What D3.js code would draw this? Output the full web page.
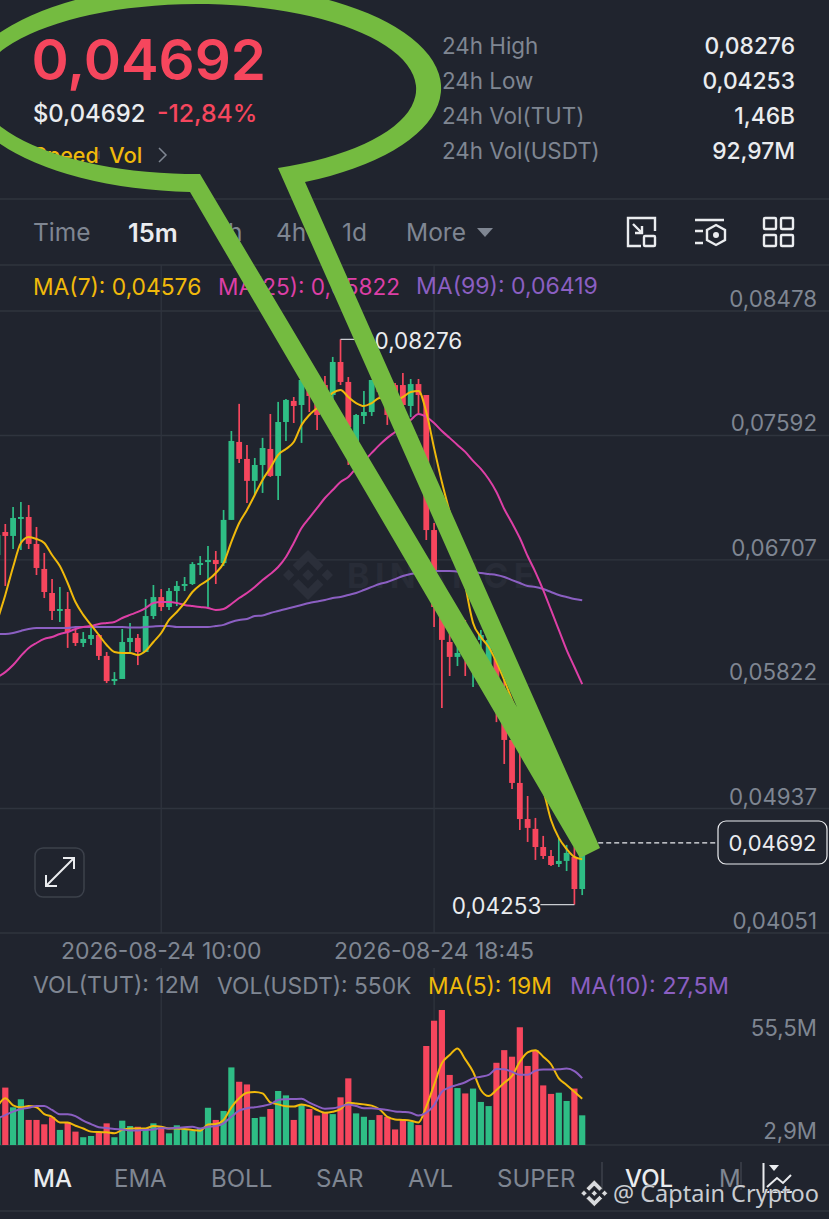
<!DOCTYPE html>
<html><head><meta charset="utf-8">
<script src="https://cdn.jsdelivr.net/npm/d3@7/dist/d3.min.js"></script>
<style>html,body{margin:0;padding:0;background:#20242e;overflow:hidden}svg{display:block}text{font-family:Inter,"Noto Sans",sans-serif}</style>
</head><body><svg id="c" width="829" height="1219"></svg>
<script>
// Prices are in hundred-thousandths of USDT (6741 = 0,06741). One entry per 15m candle.
const opens=[6741,6905,6877,6998,7012,6820,6642,6471,6343,6357,6186,6115,6144,6172,6023,5844,5859,6122,6151,6051,6307,6442,6371,6485,6521,6535,6670,6691,6706,6684,6991,7546,7425,7269,7382,7496,7304,7688,7838,7809,7987,7859,7951,7880,8115,7973,7525,7731,7759,8001,7902,7951,7951,7802,7958,7880,6919,6421,6122,6016,6165,5923,6137,5958,6016,5780,5425,5119,4862,4792,4663,4599,4542,4564,4592,4364];
const closes=[6884,6877,7005,7012,6820,6649,6478,6343,6357,6193,6115,6144,6172,6023,5844,5859,6122,6151,6051,6307,6442,6371,6485,6521,6535,6677,6684,6706,6677,6991,7553,7425,7269,7382,7503,7304,7688,7845,7802,7987,7873,7738,7845,8115,7973,7652,7738,7759,7987,7902,7738,7774,7809,7958,7880,6919,6371,6137,6016,6044,6030,6101,6172,6137,5866,5425,5119,4862,4799,4663,4599,4535,4564,4621,4364,4692];
const highs=[6919,6962,7083,7119,7097,6941,6756,6570,6514,6478,6215,6193,6229,6179,6051,5908,6215,6258,6179,6428,6528,6499,6506,6556,6585,6691,6734,6805,6770,7062,7624,7817,7525,7432,7575,7745,7831,7852,7866,8001,8044,7916,8016,8151,8276,8008,7745,7909,7987,8058,8023,7965,8037,7994,7994,7880,6969,6542,6193,6087,6279,6137,6208,6172,6030,5851,5460,5354,5026,4870,4742,4642,4728,4678,4663,4692];
const lows=[6706,6521,6784,6777,6784,6599,6435,6279,6264,6080,6094,6087,6101,5994,5830,5816,5859,6051,5958,6051,6286,6343,6350,6378,6485,6528,6599,6371,6535,6663,6991,7396,7112,7169,7183,7297,7133,7553,7681,7539,7759,7631,7702,7831,7951,7382,7475,7674,7731,7859,7667,7702,7795,7724,7752,6848,6229,5652,5880,5951,5880,5802,6066,5887,5552,5254,5076,4784,4699,4571,4578,4528,4521,4492,4253,4321];
const ma7=[6279,6457,6656,6827,6870,6855,6827,6741,6663,6542,6407,6315,6244,6172,6101,6051,6044,6044,6030,6058,6122,6186,6279,6336,6400,6478,6528,6563,6613,6684,6834,6969,7062,7169,7276,7361,7454,7496,7546,7667,7738,7788,7845,7895,7916,7866,7823,7802,7823,7859,7845,7845,7866,7902,7909,7759,7503,7261,7048,6848,6528,6258,6158,6087,5980,5851,5709,5567,5389,5211,5069,4855,4728,4649,4592,4576];
const ma25=[5873,5908,5958,6023,6080,6115,6144,6158,6179,6193,6215,6229,6236,6251,6258,6265,6293,6315,6336,6364,6400,6407,6407,6400,6386,6378,6371,6364,6350,6357,6393,6435,6471,6514,6563,6606,6656,6727,6827,6934,7005,7076,7147,7204,7261,7297,7361,7411,7468,7525,7575,7617,7660,7702,7745,7724,7681,7624,7575,7525,7475,7411,7354,7282,7190,7069,6969,6862,6734,6620,6492,6350,6208,6066,5944,5822];
const ma99=[6179,6179,6186,6201,6215,6222,6222,6222,6222,6222,6229,6229,6229,6229,6229,6229,6229,6226,6226,6229,6233,6236,6236,6229,6229,6229,6229,6229,6236,6244,6265,6279,6286,6307,6311,6329,6343,6357,6371,6386,6400,6410,6421,6435,6442,6457,6471,6492,6514,6535,6549,6570,6592,6606,6617,6624,6628,6628,6628,6624,6620,6617,6613,6606,6599,6585,6563,6542,6521,6514,6499,6478,6457,6442,6428,6419];
// Volume in millions of TUT
const volumes=[11.6,23.6,15.5,18.8,10.3,10.3,8.5,11.4,6.2,9.2,5.5,3.2,3.7,5.1,8.9,3.2,10,7.8,7.5,6.8,8.9,7.3,4.8,8.1,6.4,5.9,6.8,15.3,10.3,14,31.9,26,24.9,11.1,11.6,14.8,22.2,20.4,10.3,16.4,14.8,12.1,13.3,12.7,19.6,27.4,13,11.6,10.3,12.3,11.6,6.4,10.3,9.6,8.2,40.7,51.1,55.5,28.8,23.4,21.2,23.2,17.7,16,33.8,39,36.3,48.4,32.5,39,24.5,21,21.5,18.1,23.2,12.2];
const volMa5=[15.8,19.2,16.3,15.5,16,15.5,12.7,11.6,9.3,9.2,7.9,6.8,5.5,5.3,5.2,4.8,6.2,6.8,6.8,6.8,7.8,7.5,6.8,6.8,6.6,6.2,5.9,8.4,8.6,10.3,15.5,19.2,21.5,21.8,21.2,17.5,16.7,15.9,15.8,16.7,16,14.4,13.3,13.7,14.7,17.4,17.1,16.7,16.2,14.7,11.6,10.5,10.3,10,9.3,15.8,24.7,33.6,37,39.7,35.2,30.1,22.6,20.1,22.6,25.6,28.4,34.2,38.1,39,36.3,33.2,27.4,24.7,21.9,19];
const volMa10=[11,12.3,13.7,14.8,15.3,16,16,14.4,12.6,12.6,11.9,10,8.6,7.3,7,6.6,6.4,6,6,6.2,6.4,7,6.8,7.1,7.3,7.5,6.8,7.5,7.8,8.9,11.6,14.1,15.1,15.5,16,16.8,18.5,18.8,18.9,19,17.4,16,14.9,15.1,15.8,16.7,16,15.1,15.1,14.8,14.4,13.8,13.6,13.3,12.1,13.3,16.4,21.9,23.7,24.7,25.8,27.4,28.1,28.8,31.2,31.1,30.1,28.9,28.9,30.5,31,31,31.1,31.4,30.4,27.5];
const priceTicks=[8478,7592,6707,5822,4937,4051];
const priceLabels=["0,08478","0,07592","0,06707","0,05822","0,04937","0,04051"];
const volTickLabels=["55,5M","2,9M"];
const timeTicks=[{index:21,label:"2026-08-24 10:00"},{index:56,label:"2026-08-24 18:45"}];
const stats=[["24h High","0,08276"],["24h Low","0,04253"],["24h Vol(TUT)","1,46B"],["24h Vol(USDT)","92,97M"]];
const intervals=[["Time",33,0],["15m",128,1],["1h",218,0],["4h",276,0],["1d",342,0],["More",406,0]];
const indicators=[["MA",33,1],["EMA",114,0],["BOLL",211,0],["SAR",316,0],["AVL",408,0],["SUPER",497,0],["VOL",625,1],["M",719,0]];
const lastPrice=4692;

const BG="#20242e",GRID="#2f343e",GREY="#7f8692",WHITE="#eaecef",RED="#f6465d",GREEN="#2ebd85",ORANGE="#f0b90b",PINK="#dd3fa6",PURPLE="#8b5fc2",LIME="#74bb40";
const LOGO="M38.73 53.2l24.59-24.58 24.6 24.6 14.3-14.31L63.32 0 24.43 38.9zM0 63.31l14.3-14.31 14.31 14.31-14.31 14.3zM38.73 73.41l24.59 24.59 24.6-24.6 14.31 14.29-38.9 38.91-38.91-38.88zM98 63.31l14.3-14.31 14.31 14.3-14.31 14.32zM77.83 63.3L63.32 48.78 52.59 59.51l-1.24 1.23-2.54 2.54 14.51 14.5 14.51-14.47z";

const svg=d3.select("#c");
svg.append("rect").attr("width",829).attr("height",1219).attr("fill",BG);
const txt=(x,y,s,o={})=>svg.append("text").attr("x",x).attr("y",y).attr("dominant-baseline","central")
  .attr("text-anchor",o.a||"start").attr("fill",o.c||GREY).attr("font-size",o.s||22).attr("font-weight",o.w||400).text(s);
const hline=(y,x1=0,x2=829)=>svg.append("line").attr("x1",x1).attr("x2",x2).attr("y1",y).attr("y2",y).attr("stroke",GRID).attr("stroke-width",1.3);

const x=d3.scaleLinear().domain([0,75]).range([-2.5,582.2]);
const y=d3.scaleLinear().domain([4051,8478]).range([933,311]);
const yv=d3.scaleLinear().domain([0,55.5]).range([1145,1010]);

// frame lines
hline(199);hline(265);hline(1145);hline(1211);
priceTicks.forEach(t=>hline(y(t)));
timeTicks.forEach(t=>{[[265,933],[968,1145]].forEach(r=>svg.append("line").attr("x1",x(t.index)).attr("x2",x(t.index)).attr("y1",r[0]).attr("y2",r[1]).attr("stroke",GRID).attr("stroke-width",1.3));});

// chart watermark
svg.append("path").attr("d",LOGO).attr("transform","translate(283,550) scale(0.395)").attr("fill","#2b2f3a");
txt(347,575,"BINANCE",{s:34,w:700,c:"#282c37"}).attr("letter-spacing",5.4);

// candles
const idx=d3.range(opens.length);
const isUp=i=>closes[i]>=opens[i];
svg.append("g").selectAll("line").data(idx).join("line")
  .attr("x1",i=>x(i)).attr("x2",i=>x(i)).attr("y1",i=>y(highs[i])).attr("y2",i=>y(lows[i]))
  .attr("stroke",i=>isUp(i)?GREEN:RED).attr("stroke-width",1.7);
svg.append("g").selectAll("rect").data(idx).join("rect")
  .attr("x",i=>x(i)-2.9).attr("width",5.8).attr("y",i=>y(Math.max(opens[i],closes[i])))
  .attr("height",i=>Math.max(1.5,Math.abs(y(opens[i])-y(closes[i])))).attr("fill",i=>isUp(i)?GREEN:RED);
// moving averages
const lineOf=(ys)=>d3.line().x((d,i)=>x(i)).y(d=>ys(d)).curve(d3.curveMonotoneX);
[[ma99,PURPLE],[ma25,PINK],[ma7,ORANGE]].forEach(([a,c])=>svg.append("path").attr("d",lineOf(y)(a)).attr("fill","none").attr("stroke",c).attr("stroke-width",2));

// high / low callouts
const hiI=highs.indexOf(d3.max(highs)),loI=lows.indexOf(d3.min(lows));
svg.append("line").attr("x1",x(hiI)).attr("x2",x(hiI)+32).attr("y1",y(highs[hiI])).attr("y2",y(highs[hiI])).attr("stroke","#c9ccd1").attr("stroke-width",1.2);
txt(x(hiI)+34,y(highs[hiI])+1,"0,08276",{c:WHITE,s:22.5});
svg.append("line").attr("x1",x(loI)).attr("x2",x(loI)-34).attr("y1",y(lows[loI])).attr("y2",y(lows[loI])).attr("stroke","#c9ccd1").attr("stroke-width",1.2);
txt(x(loI)-33,y(lows[loI])+1,"0,04253",{c:WHITE,s:22.5,a:"end"});

// last price
svg.append("line").attr("x1",x(75)).attr("x2",717).attr("y1",y(lastPrice)).attr("y2",y(lastPrice)).attr("stroke",WHITE).attr("stroke-width",1.2).attr("stroke-dasharray","5 3");
svg.append("rect").attr("x",718).attr("y",821).attr("width",109).attr("height",43).attr("rx",8).attr("fill",BG).attr("stroke",WHITE).attr("stroke-width",1.2);
txt(772.5,843,"0,04692",{a:"middle",c:WHITE,s:22});

// y labels
priceTicks.forEach((t,i)=>txt(817,y(t)-12.5,priceLabels[i],{a:"end",s:22.3}));
timeTicks.forEach(t=>txt(x(t.index),951,t.label,{a:"middle",s:23}));

// expand button
svg.append("rect").attr("x",35).attr("y",848).attr("width",49).attr("height",49).attr("rx",8).attr("fill",BG).attr("stroke","#3c414b").attr("stroke-width",1.5);
svg.append("path").attr("d","M46 886L74 858M63 858H74V869M46 875V886H57").attr("fill","none").attr("stroke",WHITE).attr("stroke-width",2);

// volume
svg.append("g").selectAll("rect").data(idx).join("rect")
  .attr("x",i=>x(i)-3.1).attr("width",6.2).attr("y",i=>yv(volumes[i])).attr("height",i=>yv(0)-yv(volumes[i]))
  .attr("fill",i=>isUp(i)?GREEN:RED);
[[volMa5,ORANGE],[volMa10,PURPLE]].forEach(([a,c])=>svg.append("path").attr("d",lineOf(yv)(a)).attr("fill","none").attr("stroke",c).attr("stroke-width",2));
txt(817,1027,volTickLabels[0],{a:"end",s:22.3});
txt(817,1130,volTickLabels[1],{a:"end",s:22.3});
txt(33,985,"VOL(TUT): 12M",{s:23});
txt(217,985,"VOL(USDT): 550K",{s:22.8});
txt(428,985,"MA(5): 19M",{s:22.8,c:ORANGE});
txt(570,985,"MA(10): 27,5M",{s:23.5,c:PURPLE});

// header
txt(31.5,59,"0,04692",{s:56.5,w:600,c:RED});
txt(33,113,"$0,04692",{s:23.8,w:500,c:WHITE});
txt(157,113,"-12,84%",{s:24.8,w:500,c:RED});
txt(33,155,"Speed",{s:21.5,c:ORANGE,w:500});
svg.append("line").attr("x1",99).attr("x2",99).attr("y1",151).attr("y2",159).attr("stroke","#444a55").attr("stroke-width",1.5);
txt(109,155,"Vol",{s:22,c:ORANGE,w:500});
svg.append("path").attr("d","M159 148L166 155L159 162").attr("fill","none").attr("stroke",GREY).attr("stroke-width",1.5);
stats.forEach((r,i)=>{txt(442,45+35*i,r[0],{s:22.4});txt(795,45+35*i,r[1],{s:22.8,a:"end",c:WHITE,w:500});});
intervals.forEach(r=>txt(r[1],232,r[0],{s:r[2]?25.5:24.5,c:r[2]?WHITE:GREY,w:r[2]?600:400}));
svg.append("path").attr("d","M477 228H493L485 237Z").attr("fill",GREY);
// toolbar icons
const ic=svg.append("g").attr("fill","none").attr("stroke",WHITE).attr("stroke-width",2.4);
ic.append("path").attr("d","M641 246H628V218H655V231M633 224L642 233M642 226V233H635");
ic.append("rect").attr("x",644).attr("y",236).attr("width",11).attr("height",10).attr("rx",1);
ic.append("path").attr("d","M695 220H724M695 231H703M695 243H703M716 225L725 230V240L716 245L707 240V230Z");
ic.append("circle").attr("cx",716).attr("cy",235).attr("r",1.8).attr("fill",WHITE);
[[764,218],[781,218],[764,235],[781,235]].forEach(p=>ic.append("rect").attr("x",p[0]).attr("y",p[1]).attr("width",12).attr("height",11).attr("rx",1));
// legend
txt(33,286,"MA(7): 0,04576",{s:22.8,c:ORANGE});
txt(218,286,"MA(25): 0,05822",{s:22.6,c:PINK});
txt(416,286,"MA(99): 0,06419",{s:23,c:PURPLE});

// indicator bar
indicators.forEach(r=>txt(r[1],1178,r[0],{s:24,c:r[2]?WHITE:GREY,w:r[2]?500:400}));
[[602,1162,1190],[741,1162,1190]].forEach(l=>svg.append("line").attr("x1",l[0]).attr("x2",l[0]).attr("y1",l[1]).attr("y2",l[2]).attr("stroke","#3c414b").attr("stroke-width",1.5));
svg.append("path").attr("d","M763.5 1163V1192H792M767 1187L777 1178L783 1183L791 1175").attr("fill","none").attr("stroke",WHITE).attr("stroke-width",2);
svg.append("path").attr("d","M769 1165H779L774 1171Z").attr("fill",WHITE);

// green speech bubble annotation
svg.append("path").attr("fill",LIME).attr("fill-rule","evenodd")
  .attr("d","M190 192A239 104 0 1 1 305 182L600 848L580 858ZM200 174A219 85 0 1 1 278 168L517 707Z");

// corner credit
svg.append("path").attr("d",LOGO).attr("transform","translate(581,1180) scale(0.21)").attr("fill","#d8dade").attr("stroke","#222").attr("stroke-width",3);
txt(613,1193,"@ Captain Cryptoo",{s:23.5,c:"#c9ccd1"}).attr("style",'font-family:"Noto Sans";paint-order:stroke').attr("stroke","#20242e").attr("stroke-width",1);
</script></body></html>
